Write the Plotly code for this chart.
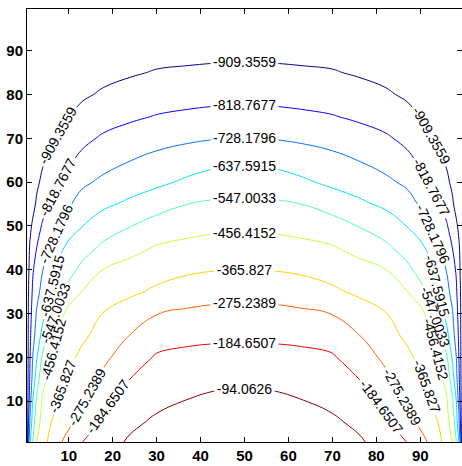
import plotly.graph_objects as go

# ---- data (grid of estimated values) ----
x_vals = [0.5, 0.8, 1.2, 1.8, 2.7, 4, 6, 9, 13, 18, 24, 30, 37, 44, 50,
          56, 63, 70, 76, 82, 87, 91, 94, 96, 97.3, 98.2, 98.8, 99.2, 99.5]
y_vals = [0.7, 5, 10, 15, 20, 25, 30, 35, 40, 45, 50, 55, 60, 65, 70, 75, 80, 85, 90, 95, 99.5]

row_y00 = [-1000, -788.6, -637.6, -542.2, -456.4, -402.9, -336.5, -262, -186.5, -134.3, -81, -49.4, -22.9, -7.6, -3.5,
           -7.6, -22.9, -49.4, -81, -134.3, -186.5, -262, -336.5, -402.9, -456.4, -542.2, -637.6, -788.6, -1000]
row_y05 = [-1000, -838.5, -705.6, -592.3, -492.6, -427.3, -364, -310.7, -235, -162, -112, -77.2, -51.7, -37, -33,
           -37, -51.7, -77.2, -112, -162, -235, -310.7, -364, -427.3, -492.6, -592.3, -705.6, -838.5, -1000]
row_y10 = [-1000, -870.5, -758.4, -637.6, -530.5, -446.6, -397.6, -341.3, -283.8, -200.1, -150, -115, -90.8, -74.4, -70,
           -74.4, -90.8, -115, -150, -200.1, -283.8, -341.3, -397.6, -446.6, -530.5, -637.6, -758.4, -870.5, -1000]
row_y15 = [-1000, -883.5, -798.7, -698, -592.3, -484.3, -421.1, -360.1, -314.2, -255.6, -183.5, -145, -128, -113.9, -110,
           -113.9, -128, -145, -183.5, -255.6, -314.2, -360.1, -421.1, -484.3, -592.3, -698, -798.7, -883.5, -1000]
row_y20 = [-1000, -894.3, -818.8, -728.2, -646.7, -535.7, -447, -400.2, -346.1, -291.6, -231.4, -175, -163, -156, -154.5,
           -156, -163, -175, -231.4, -291.6, -346.1, -400.2, -447, -535.7, -646.7, -728.2, -818.8, -894.3, -1000]
row_y25 = [-1000, -902.7, -835.6, -762.2, -692, -611.7, -496.7, -430.2, -382.5, -330.4, -273, -225, -207, -201.5, -200.1,
           -201.5, -207, -225, -273, -330.4, -382.5, -430.2, -496.7, -611.7, -692, -762.2, -835.6, -902.7, -1000]
row_y30 = [-1000, -909.4, -849, -785.8, -720, -666.4, -578.7, -455.3, -413.2, -362.3, -319.8, -277.3, -260, -250.8, -248.3,
           -250.8, -260, -277.3, -319.8, -362.3, -413.2, -455.3, -578.7, -666.4, -720, -785.8, -849, -909.4, -1000]
row_y35 = [-1000, -915, -865.3, -807.5, -756.5, -700.3, -631.1, -538.4, -455.1, -412, -382, -350.9, -322, -307.2, -302.9,
           -307.2, -322, -350.9, -382, -412, -455.1, -538.4, -631.1, -700.3, -756.5, -807.5, -865.3, -915, -1000]
row_y40 = [-1000, -926.6, -880.4, -827.6, -785.8, -732.3, -666.7, -596.2, -524.4, -453.7, -423.8, -400.1, -380.3, -368.9, -365.8,
           -368.9, -380.3, -400.1, -423.8, -453.7, -524.4, -596.2, -666.7, -732.3, -785.8, -827.6, -880.4, -926.6, -1000]
row_y45 = [-1000, -938.2, -896, -865.1, -818.8, -771.7, -715, -635.1, -585.5, -527, -484.8, -448.6, -430.9, -420.7, -417.9,
           -420.7, -430.9, -448.6, -484.8, -527, -585.5, -635.1, -715, -771.7, -818.8, -865.1, -896, -938.2, -1000]
row_y50 = [-1000, -969.8, -929.5, -892.9, -855.8, -810.6, -760, -708.1, -640, -592, -550, -510, -489.7, -475.4, -471.5,
           -475.4, -489.7, -510, -550, -592, -640, -708.1, -760, -810.6, -855.8, -892.9, -929.5, -969.8, -1000]
row_y55 = [-1000, -986.4, -968.3, -941.1, -895, -850.3, -808, -753.2, -693, -653, -622, -585, -547.6, -533.4, -529.6,
           -533.4, -547.6, -585, -622, -653, -693, -753.2, -808, -850.3, -895, -941.1, -968.3, -986.4, -1000]
row_y60 = [-1000, -990.9, -978.9, -960.7, -928, -890, -852, -798.3, -745, -710, -677, -656.7, -622.8, -595.2, -587.7,
           -595.2, -622.8, -656.7, -677, -710, -745, -798.3, -852, -890, -928, -960.7, -978.9, -990.9, -1000]
row_y65 = [-1000, -993.6, -985.1, -972.3, -953.1, -922, -888, -845.8, -795, -760, -730, -705.8, -682.3, -660.3, -648.2,
           -660.3, -682.3, -705.8, -730, -760, -795, -845.8, -888, -922, -953.1, -972.3, -985.1, -993.6, -1000]
row_y70 = [-1000, -995.5, -989.6, -980.7, -967.3, -948.6, -918.3, -885, -844.2, -804, -782, -758, -742.7, -730.8, -723.7,
           -730.8, -742.7, -758, -782, -804, -844.2, -885, -918.3, -948.6, -967.3, -980.7, -989.6, -995.5, -1000]
row_y75 = [-1000, -997.1, -993.3, -987.5, -978.8, -966.3, -947, -918.1, -888, -862, -833.2, -815, -803.1, -793.6, -788.2,
           -793.6, -803.1, -815, -833.2, -862, -888, -918.1, -947, -966.3, -978.8, -987.5, -993.3, -997.1, -1000]
row_y80 = [-1000, -997.5, -994, -989, -981.5, -970, -955, -935, -920, -899.9, -878, -860.1, -852.3, -846.3, -842.8,
           -846.3, -852.3, -860.1, -878, -899.9, -920, -935, -955, -970, -981.5, -989, -994, -997.5, -1000]
row_y85 = [-1000, -996, -992, -987, -981, -973, -962, -948, -939, -929, -918, -904, -897.6, -892, -889.1,
           -892, -897.6, -904, -918, -929, -939, -948, -962, -973, -981, -987, -992, -996, -1000]
row_y90 = [-1000, -997, -994, -991, -987, -982, -975, -967, -960, -953.5, -946.2, -938.1, -934.8, -931.7, -930,
           -931.7, -934.8, -938.1, -946.2, -953.5, -960, -967, -975, -982, -987, -991, -994, -997, -1000]
row_y95 = [-1000, -998.5, -997, -995, -993, -990, -987, -984, -981, -978, -974.5, -970.7, -969.1, -967.6, -966.8,
           -967.6, -969.1, -970.7, -974.5, -978, -981, -984, -987, -990, -993, -995, -997, -998.5, -1000]
row_y99 = [-1000] * 29

z_rows = [row_y00, row_y05, row_y10, row_y15, row_y20, row_y25, row_y30, row_y35, row_y40, row_y45,
          row_y50, row_y55, row_y60, row_y65, row_y70, row_y75, row_y80, row_y85, row_y90, row_y95, row_y99]

levels = [-909.3559, -818.7677, -728.1796, -637.5915, -547.0033,
          -456.4152, -365.827, -275.2389, -184.6507, -94.0626]
label_formats = ['.4f', '.4f', '.4f', '.4f', '.4f', '.4f', '.3f', '.4f', '.4f', '.4f']
level_colors = ['rgb(0,0,143)', 'rgb(0,0,255)', 'rgb(0,112,255)', 'rgb(0,223,255)',
                'rgb(80,255,175)', 'rgb(191,255,64)', 'rgb(255,207,0)',
                'rgb(255,96,0)', 'rgb(239,0,0)', 'rgb(128,0,0)']
tick_vals = [10, 20, 30, 40, 50, 60, 70, 80, 90]

FONT = 'Liberation Sans, Arial, Helvetica, sans-serif'

# Magnitudes are contoured and the sign is restored as a label prefix,
# so that the labels use a plain ASCII hyphen like the original.
mag_rows = [[-v for v in row] for row in z_rows]

# Each level gets its own trace; extra (empty) levels far outside the data
# range only make plotly space its inline labels more densely along the line.
SPACER = 2000
N_SPACER = 60

fig = go.Figure()
for lev, fmt, col in zip(levels, label_formats, level_colors):
    m = -lev
    fig.add_trace(go.Contour(
        x=x_vals, y=y_vals, z=mag_rows,
        autocontour=False,
        contours=dict(start=m, end=m + SPACER * (N_SPACER - 1), size=SPACER,
                      coloring='lines', showlabels=True,
                      labelfont=dict(family=FONT, size=14, color='black')),
        colorscale=[[0, col], [1, col]],
        line=dict(width=1, smoothing=1.3),
        showscale=True,
        # off-canvas helper colour bar: only supplies the label number format
        colorbar=dict(x=3, xanchor='left', thickness=2, len=0.1,
                      tickprefix='-', tickformat=fmt, showticklabels=True,
                      tickmode='array', tickvals=[], ticks='',
                      outlinewidth=0),
        hoverinfo='skip'))

axis_common = dict(showgrid=False, zeroline=False, showline=True, linecolor='black',
                   linewidth=1, mirror='ticks', ticks='inside', ticklen=5,
                   tickcolor='black', tickvals=tick_vals,
                   tickfont=dict(family=FONT, size=15, color='black', weight='bold'))
fig.update_layout(
    width=462, height=466,
    margin=dict(l=27, r=0, t=9, b=24, autoexpand=False),
    paper_bgcolor='white', plot_bgcolor='white',
    showlegend=False,
    xaxis=dict(range=[0.5, 99.5], **axis_common),
    yaxis=dict(range=[0.7, 99.5], **axis_common),
)
fig.write_html("out.html")
